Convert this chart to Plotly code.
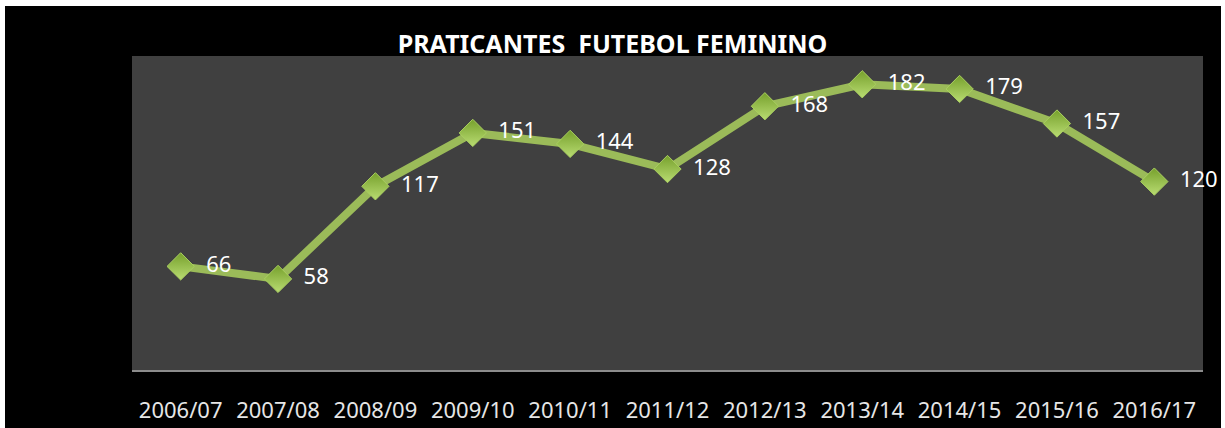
import plotly.graph_objects as go

epocas = ["2006/07", "2007/08", "2008/09", "2009/10", "2010/11", "2011/12",
          "2012/13", "2013/14", "2014/15", "2015/16", "2016/17"]
praticantes = [66, 58, 117, 151, 144, 128, 168, 182, 179, 157, 120]

W, H = 1225, 428
L, R, T, B = 132, 22, 56, 58
pw = W - L - R
ph = H - T - B

fig = go.Figure()
fig.add_trace(go.Scatter(
    x=epocas, y=praticantes,
    mode="lines+markers+text",
    text=["\u00a0\u00a0" + str(v) for v in praticantes],
    textposition="middle right",
    textfont=dict(family="Noto Sans", size=22, color="white"),
    line=dict(color="#9bbb59", width=8),
    marker=dict(symbol="diamond", size=21, color="#76a02c",
                gradient=dict(type="vertical", color="#b9dc72"),
                line=dict(color="#a9cf60", width=1)),
    cliponaxis=False,
    showlegend=False,
))


def px_x(p):
    return (p - L) / pw


def px_y(p):
    return (H - B - p) / ph


# moldura branca
for x0, x1, y0, y1 in [(0, 5, 0, H), (1221, W, 0, H), (0, W, 0, 6)]:
    fig.add_shape(type="rect", xref="paper", yref="paper",
                  x0=px_x(x0), x1=px_x(x1), y0=px_y(y1), y1=px_y(y0),
                  fillcolor="white", line_width=0, layer="above")

fig.update_layout(
    width=W, height=H,
    margin=dict(l=L, r=R, t=T, b=B),
    paper_bgcolor="black",
    plot_bgcolor="#404040",
    title=dict(text="<b>PRATICANTES  FUTEBOL FEMININO</b>",
               x=0.5, xref="container", xanchor="center",
               y=1 - 44 / H, yanchor="middle",
               font=dict(family="Noto Sans", size=25, color="white")),
    xaxis=dict(range=[-0.5, 10.5], showgrid=False, zeroline=False,
               showline=True, linecolor="#8c8c8c", linewidth=2,
               ticks="", ticklabelstandoff=20, automargin=False,
               tickfont=dict(family="Noto Sans", size=22, color="#e6e6e6")),
    yaxis=dict(range=[0, 200], showgrid=False, zeroline=False,
               showticklabels=False, visible=False, automargin=False),
)

fig.write_html("out.html", config={"displayModeBar": False},
               post_script="document.body.style.margin='0';")
